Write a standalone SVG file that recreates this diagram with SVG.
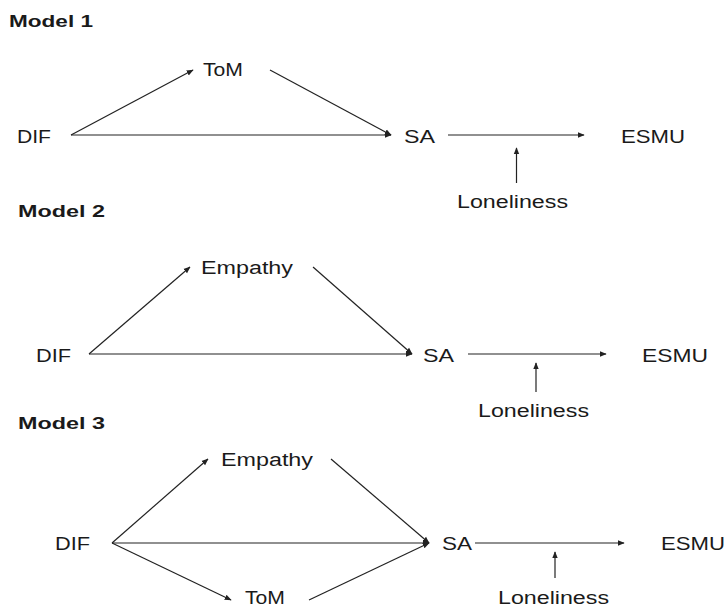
<svg xmlns="http://www.w3.org/2000/svg" width="726" height="609" viewBox="0 0 726 609">
<defs>
<marker id="ah" viewBox="0 0 10 10" refX="9" refY="5" markerWidth="7" markerHeight="7" markerUnits="userSpaceOnUse" orient="auto">
<path d="M0,1 L10,5 L0,9 z" fill="#222"/>
</marker>
</defs>
<style>
text{font-family:"Liberation Sans",Arial,sans-serif;fill:#1a1a1a;font-size:18px}
.h{font-weight:bold;font-size:16.5px}
.c line{stroke:#222;stroke-width:1.2;marker-end:url(#ah)}
</style>
<rect width="726" height="609" fill="#fff"/>
<text class="h" x="9" y="27" textLength="84" lengthAdjust="spacingAndGlyphs">Model 1</text>
<text class="h" x="18" y="217" textLength="87" lengthAdjust="spacingAndGlyphs">Model 2</text>
<text class="h" x="18" y="429" textLength="87" lengthAdjust="spacingAndGlyphs">Model 3</text>
<g id="m1-tom"><text x="203" y="76" textLength="40" lengthAdjust="spacingAndGlyphs">ToM</text></g>
<g id="m1-dif"><text x="17" y="143" textLength="34" lengthAdjust="spacingAndGlyphs">DIF</text></g>
<g id="m1-sa"><text x="404" y="143" textLength="31" lengthAdjust="spacingAndGlyphs">SA</text></g>
<g id="m1-esmu"><text x="621" y="143" textLength="64" lengthAdjust="spacingAndGlyphs">ESMU</text></g>
<g id="m1-lon"><text x="457" y="208" textLength="111" lengthAdjust="spacingAndGlyphs">Loneliness</text></g>
<g id="m2-emp"><text x="201" y="274" textLength="92" lengthAdjust="spacingAndGlyphs">Empathy</text></g>
<g id="m2-dif"><text x="36" y="362" textLength="35" lengthAdjust="spacingAndGlyphs">DIF</text></g>
<g id="m2-sa"><text x="423" y="362" textLength="31" lengthAdjust="spacingAndGlyphs">SA</text></g>
<g id="m2-esmu"><text x="642" y="362" textLength="66" lengthAdjust="spacingAndGlyphs">ESMU</text></g>
<g id="m2-lon"><text x="478" y="417" textLength="111" lengthAdjust="spacingAndGlyphs">Loneliness</text></g>
<g id="m3-emp"><text x="221" y="466" textLength="92" lengthAdjust="spacingAndGlyphs">Empathy</text></g>
<g id="m3-dif"><text x="55" y="550" textLength="35" lengthAdjust="spacingAndGlyphs">DIF</text></g>
<g id="m3-sa"><text x="442" y="550" textLength="30" lengthAdjust="spacingAndGlyphs">SA</text></g>
<g id="m3-esmu"><text x="661" y="550" textLength="64" lengthAdjust="spacingAndGlyphs">ESMU</text></g>
<g id="m3-tom"><text x="245" y="604" textLength="40" lengthAdjust="spacingAndGlyphs">ToM</text></g>
<g id="m3-lon"><text x="498" y="604" textLength="111" lengthAdjust="spacingAndGlyphs">Loneliness</text></g>
<g id="connectors" class="c">
<line x1="71" y1="135" x2="193" y2="70"/>
<line x1="270" y1="70" x2="391" y2="135"/>
<line x1="71" y1="135" x2="391" y2="135"/>
<line x1="448" y1="135" x2="584" y2="135"/>
<line x1="516.5" y1="183" x2="516.5" y2="148"/>
<line x1="89" y1="354" x2="190" y2="267"/>
<line x1="313" y1="267" x2="412" y2="354"/>
<line x1="89" y1="354" x2="412" y2="354"/>
<line x1="468" y1="354" x2="606" y2="354"/>
<line x1="536" y1="392" x2="536" y2="363"/>
<line x1="112" y1="543" x2="208" y2="459"/>
<line x1="331" y1="459" x2="429" y2="543"/>
<line x1="112" y1="543" x2="429" y2="543"/>
<line x1="112" y1="543" x2="231" y2="600"/>
<line x1="309" y1="600" x2="429" y2="543"/>
<line x1="475" y1="543" x2="624" y2="543"/>
<line x1="555" y1="578" x2="555" y2="552"/>
</g>
</svg>
